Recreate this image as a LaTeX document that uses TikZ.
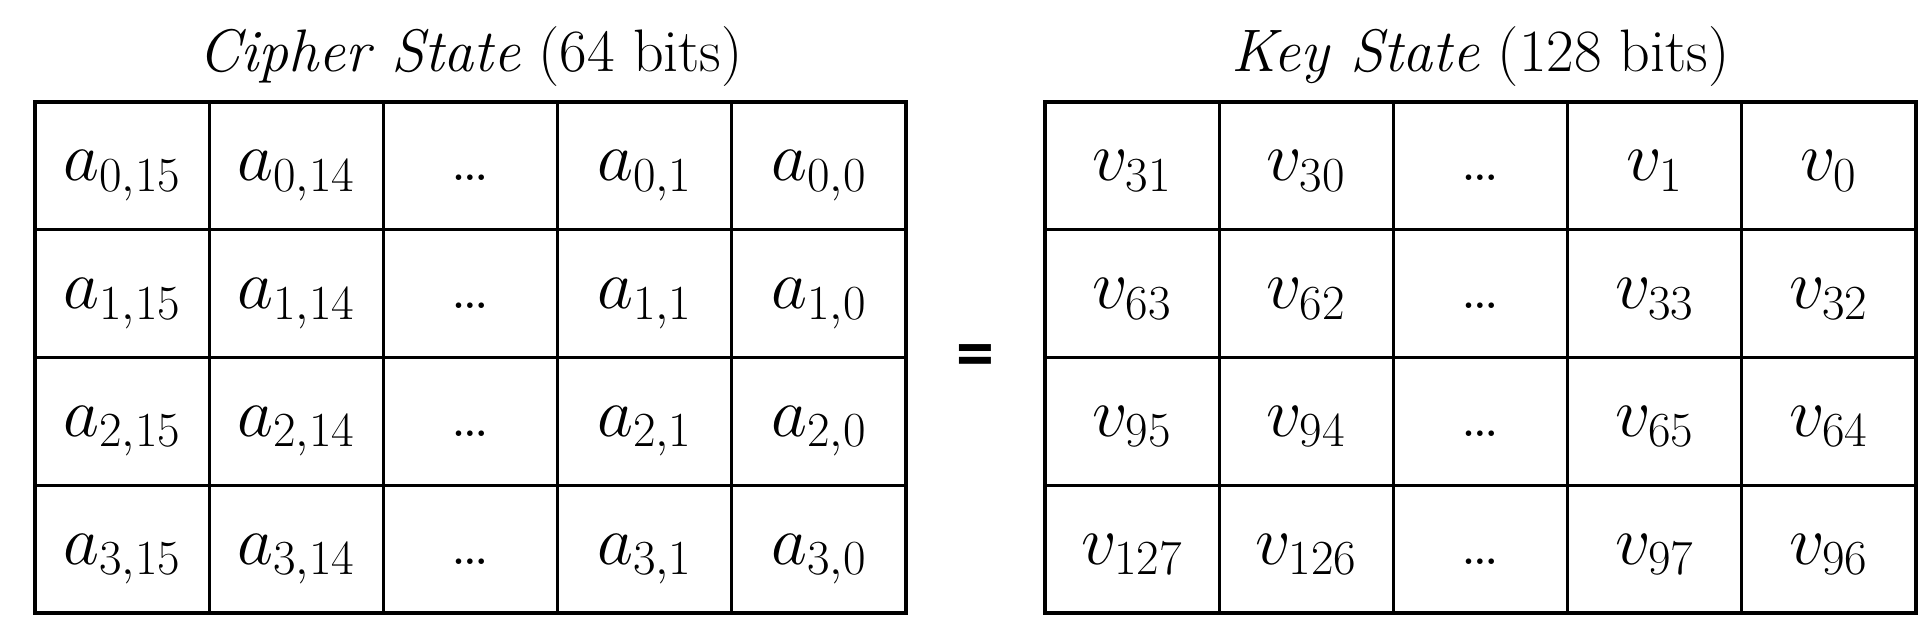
\RequirePackage{fix-cm}
\documentclass[tikz,border=0pt]{standalone}
\usepackage{fontspec}
\newfontfamily\eqfont{Carlito}
\begin{document}
\begin{tikzpicture}[x=0.5pt,y=0.5pt,
  gridline/.style={line width=1.65pt, line cap=rect},
  celltext/.style={anchor=base, inner sep=0pt, font=\fontsize{35}{42}\selectfont},
  dotstext/.style={anchor=base, inner sep=0pt, font=\fontsize{34}{40}\selectfont},
  titletext/.style={anchor=base, inner sep=0pt, font=\fontsize{30}{36}\selectfont},
  eqsign/.style={inner sep=0pt, font=\eqfont\bfseries\fontsize{38}{40}\selectfont}]
\useasboundingbox (0,0) rectangle (1931,631);
\fill[white] (0,0) rectangle (1931,631);
% titles
\node[titletext] (ctitle) at (470.5,559) {\textit{Cipher State} (64 bits)};
\node[titletext] (ktitle) at (1480.5,559) {\textit{Key State} (128 bits)};
% grids
\foreach \i in {0,...,5} {
  \draw[gridline] ({35+\i*174.2},18) -- ({35+\i*174.2},529);
  \draw[gridline] ({1045+\i*174.2},18) -- ({1045+\i*174.2},529);
}
\foreach \j in {0,...,4} {
  \draw[gridline] (35,{18+\j*127.75}) -- (906,{18+\j*127.75});
  \draw[gridline] (1045,{18+\j*127.75}) -- (1916,{18+\j*127.75});
}
% left cells
\foreach \r in {0,...,3} {
  \pgfmathsetmacro\yb{529-127.75*(\r+0.5)-15}
  \node[celltext] (L-\r-0) at ({35+0.5*174.2},\yb) {$a_{\r,15}$};
  \node[celltext] (L-\r-1) at ({35+1.5*174.2},\yb) {$a_{\r,14}$};
  \node[dotstext] (L-\r-2) at ({35+2.5*174.2},\yb) {\ldots};
  \node[celltext] (L-\r-3) at ({35+3.5*174.2},\yb) {$a_{\r,1}$};
  \node[celltext] (L-\r-4) at ({35+4.5*174.2},\yb) {$a_{\r,0}$};
}
% right cells
\foreach \r/\a/\b/\c/\d in {0/31/30/1/0, 1/63/62/33/32, 2/95/94/65/64, 3/127/126/97/96} {
  \pgfmathsetmacro\yb{529-127.75*(\r+0.5)-15}
  \node[celltext] (R-\r-0) at ({1045+0.5*174.2},\yb) {$v_{\a}$};
  \node[celltext] (R-\r-1) at ({1045+1.5*174.2},\yb) {$v_{\b}$};
  \node[dotstext] (R-\r-2) at ({1045+2.5*174.2},\yb) {\ldots};
  \node[celltext] (R-\r-3) at ({1045+3.5*174.2},\yb) {$v_{\c}$};
  \node[celltext] (R-\r-4) at ({1045+4.5*174.2},\yb) {$v_{\d}$};
}
% equals sign
\node[eqsign] (eq) at (975,269) {=};
\end{tikzpicture}
\end{document}
